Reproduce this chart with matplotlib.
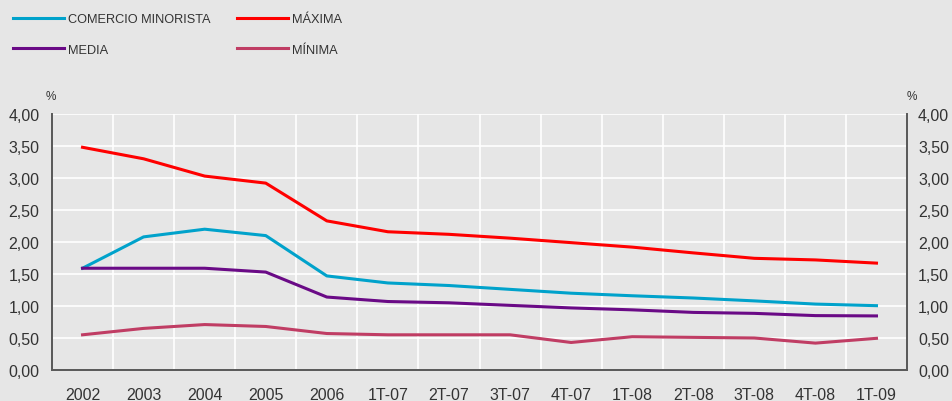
import matplotlib
matplotlib.use("Agg")
import matplotlib.pyplot as plt
import numpy as np
from matplotlib.ticker import FuncFormatter, FixedLocator

plt.rcParams["font.family"] = ["Liberation Sans", "DejaVu Sans"]

categories = ["2002", "2003", "2004", "2005", "2006", "1T-07", "2T-07",
              "3T-07", "4T-07", "1T-08", "2T-08", "3T-08", "4T-08", "1T-09"]

comercio = [1.59, 2.08, 2.20, 2.10, 1.47, 1.36, 1.32, 1.26, 1.20, 1.16,
            1.125, 1.08, 1.03, 1.005]
maxima = [3.48, 3.30, 3.03, 2.92, 2.33, 2.16, 2.12, 2.06, 1.99, 1.92,
          1.83, 1.745, 1.72, 1.67]
media = [1.59, 1.59, 1.59, 1.53, 1.14, 1.07, 1.05, 1.01, 0.97, 0.94,
         0.90, 0.885, 0.85, 0.845]
minima = [0.55, 0.65, 0.71, 0.68, 0.57, 0.55, 0.55, 0.55, 0.43, 0.52,
          0.51, 0.50, 0.42, 0.495]

bg = "#e6e6e6"
text_col = "#333333"
spine_col = "#5a5a5a"

fig = plt.figure(figsize=(9.52, 4.02), dpi=100, facecolor=bg)
ax = fig.add_axes([52 / 952, 31 / 402, 855 / 952, 256 / 402])
ax.set_facecolor(bg)

x = np.arange(len(categories))
l1, = ax.plot(x, comercio, color="#00a2cb", lw=2.2, label="COMERCIO MINORISTA")
l2, = ax.plot(x, maxima, color="#ff0000", lw=2.2, label="MÁXIMA")
l3, = ax.plot(x, media, color="#6a0a86", lw=2.2, label="MEDIA")
l4, = ax.plot(x, minima, color="#c03d64", lw=2.2, label="MÍNIMA")

ax.set_xlim(-0.5, len(categories) - 0.5)
ax.set_ylim(0, 4)
ax.set_yticks(np.arange(0, 4.01, 0.5))
fmt = FuncFormatter(lambda v, p: f"{v:.2f}".replace(".", ","))
ax.yaxis.set_major_formatter(fmt)
ax.set_xticks(x)
ax.set_xticklabels(categories)
ax.xaxis.set_minor_locator(FixedLocator(np.arange(0.5, len(categories) - 0.5, 1)))

ax.grid(axis="y", which="major", color="white", lw=1.2)
ax.grid(axis="x", which="minor", color="white", lw=1.2)
ax.set_axisbelow(True)

ax.tick_params(axis="both", which="both", length=0, colors=text_col, labelsize=11.5)
ax.tick_params(axis="x", pad=12)
ax.tick_params(axis="y", pad=9)
ax.spines["top"].set_visible(False)
for side in ["left", "right", "bottom"]:
    ax.spines[side].set_color(spine_col)
    ax.spines[side].set_linewidth(1.3)

ax2 = ax.twinx()
ax2.set_ylim(0, 4)
ax2.set_yticks(np.arange(0, 4.01, 0.5))
ax2.yaxis.set_major_formatter(fmt)
ax2.tick_params(axis="y", length=0, colors=text_col, labelsize=11.5, pad=8)
ax2.spines["top"].set_visible(False)
for side in ["left", "right", "bottom"]:
    ax2.spines[side].set_color(spine_col)
    ax2.spines[side].set_linewidth(1.3)

fig.text(51 / 952, 1 - 97 / 402, "%", ha="center", va="center",
         fontsize=8.5, color=text_col)
fig.text(912 / 952, 1 - 97 / 402, "%", ha="center", va="center",
         fontsize=8.5, color=text_col)

fig.legend(handles=[l1, l3, l2, l4], loc="upper left",
           bbox_to_anchor=(13 / 952, 1 - 14 / 402), ncol=2, frameon=False,
           fontsize=9.2, handlelength=4.0, handletextpad=0.3,
           columnspacing=2.1, labelspacing=1.45, borderpad=0,
           borderaxespad=0, labelcolor=text_col)

fig.savefig("out.png", dpi=100, facecolor=bg)
